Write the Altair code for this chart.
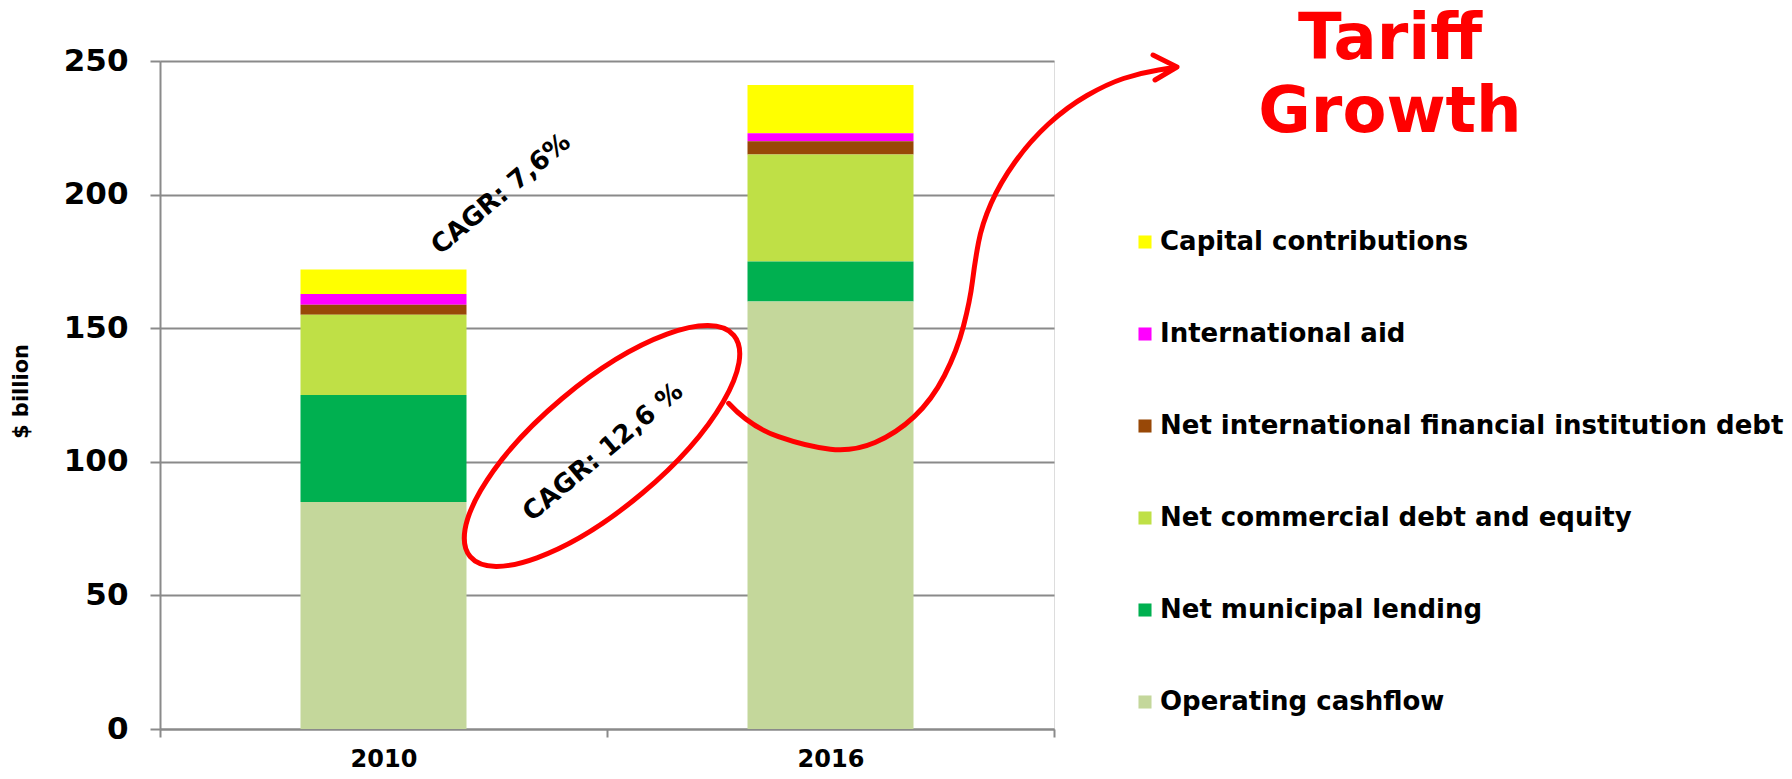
import altair as alt
import pandas as pd

# ---------------- data ----------------
years = ["2010", "2016"]
categories = [
    "Capital contributions",
    "International aid",
    "Net international financial institution debt",
    "Net commercial debt and equity",
    "Net municipal lending",
    "Operating cashflow",
]
colors = ["#FFFF00", "#FF00FF", "#984807", "#BFE046", "#00B050", "#C4D79B"]
values_2010 = [9.2, 4.0, 3.8, 30.0, 40.0, 85.0]
values_2016 = [18.0, 3.0, 5.0, 40.0, 15.0, 160.0]
y_ticks = [0, 50, 100, 150, 200, 250]
cagr_labels = ["CAGR: 7,6%", "CAGR: 12,6 %"]
title_text = "Tariff\nGrowth"

rows = []
for yr, vals in zip(years, [values_2010, values_2016]):
    for i, (cat, v) in enumerate(zip(categories, vals)):
        rows.append({"year": yr, "category": cat, "value": v,
                     "stack_idx": len(categories) - i})
df = pd.DataFrame(rows)

FONT = "DejaVu Sans"
W, H = 894, 668
GRAY = "#8a8a8a"

bars = alt.Chart(df).mark_bar(size=166).encode(
    x=alt.X("year:N", sort=years,
            scale=alt.Scale(paddingInner=0, paddingOuter=0),
            axis=alt.Axis(title=None, labelAngle=0, labelFont=FONT,
                          labelFontWeight="bold", labelFontSize=24,
                          labelColor="black", labelPadding=10,
                          domainColor=GRAY, domainWidth=2,
                          tickColor=GRAY, tickWidth=2, tickSize=8,
                          tickBand="extent", grid=False)),
    y=alt.Y("value:Q", stack="zero",
            scale=alt.Scale(domain=[0, 250], nice=False),
            axis=alt.Axis(title="$ billion", values=y_ticks,
                          labelFont=FONT, labelFontWeight="bold",
                          labelFontSize=31, labelColor="black",
                          labelPadding=22, tickSize=10, tickColor=GRAY,
                          tickWidth=2, domainColor=GRAY, domainWidth=2,
                          gridColor=GRAY, gridWidth=2,
                          titleFont=FONT, titleFontSize=21,
                          titleFontWeight="bold", titleColor="black",
                          titleX=-139, titleY=330, titleAngle=270,
                          titleAlign="center", titleBaseline="middle")),
    color=alt.Color("category:N",
                    scale=alt.Scale(domain=categories, range=colors),
                    legend=alt.Legend(title=None, orient="none",
                                      legendX=972, legendY=168,
                                      symbolType="square", symbolSize=170,
                                      symbolStrokeWidth=0, symbolOpacity=1,
                                      labelFont=FONT, labelFontSize=26,
                                      labelFontWeight="bold",
                                      labelColor="black", labelOffset=2,
                                      rowPadding=66, padding=0,
                                      labelLimit=1000)),
    order=alt.Order("stack_idx:Q", sort="ascending"),
)

dummy = pd.DataFrame({"k": [0]})

# CAGR annotations
cagr1 = alt.Chart(dummy).mark_text(
    text=cagr_labels[0], font=FONT, fontWeight="bold", fontSize=26,
    angle=320, align="center", baseline="middle", color="black"
).encode(x=alt.value(341), y=alt.value(133))

cagr2 = alt.Chart(dummy).mark_text(
    text=cagr_labels[1], font=FONT, fontWeight="bold", fontSize=26,
    angle=320, align="center", baseline="middle", color="black"
).encode(x=alt.value(443), y=alt.value(391))

# Title text
title = alt.Chart(dummy).mark_text(
    text=title_text, lineBreak="\n", lineHeight=73, font=FONT,
    fontWeight="bold", fontSize=64, color="#FF0000", align="center",
    baseline="alphabetic"
).encode(x=alt.value(1230), y=alt.value(-2))

# Hand-drawn red ellipse + arrow (annotation path, pixel offsets from plot origin)
ellipse = ("M 573.8 274.4 A 172 62 -40 1 0 310.2 495.6 "
           "A 172 62 -40 1 0 573.8 274.4 Z")
tail_pts = [(568.6, 342.3), (590, 365.7), (647, 385.7), (693.6, 390.7),
            (736.4, 372.3), (772, 339), (797, 290), (810, 240),
            (815, 200), (822, 163), (840, 122), (870, 80), (907, 46),
            (947, 23), (980, 12), (1017, 6)]
tail = "M %.1f %.1f " % tail_pts[0]
for i in range(1, len(tail_pts) - 1):
    cx, cy = tail_pts[i]
    nx, ny = tail_pts[i + 1]
    tail += "Q %.1f %.1f %.1f %.1f " % (cx, cy, (cx + nx) / 2, (cy + ny) / 2)
tail += "L %.1f %.1f " % tail_pts[-1]
arrow = "M 993 -6 L 1017 6 L 995 19"
deco_path = ellipse + " " + tail + arrow

deco = alt.Chart(dummy).mark_point(
    shape=deco_path, size=4, filled=False, stroke="#FF0000",
    strokeWidth=5, opacity=1, strokeCap="round", strokeJoin="round"
).encode(x=alt.value(0), y=alt.value(0))

chart = alt.layer(bars, deco, cagr1, cagr2, title).properties(
    width=W, height=H,
    autosize=alt.AutoSizeParams(type="none"),
    padding={"left": 152, "top": 53, "right": 730, "bottom": 42},
).configure_view(stroke=None).configure(background="white")

chart.save("out.html", embed_options={"renderer": "svg", "actions": False})
